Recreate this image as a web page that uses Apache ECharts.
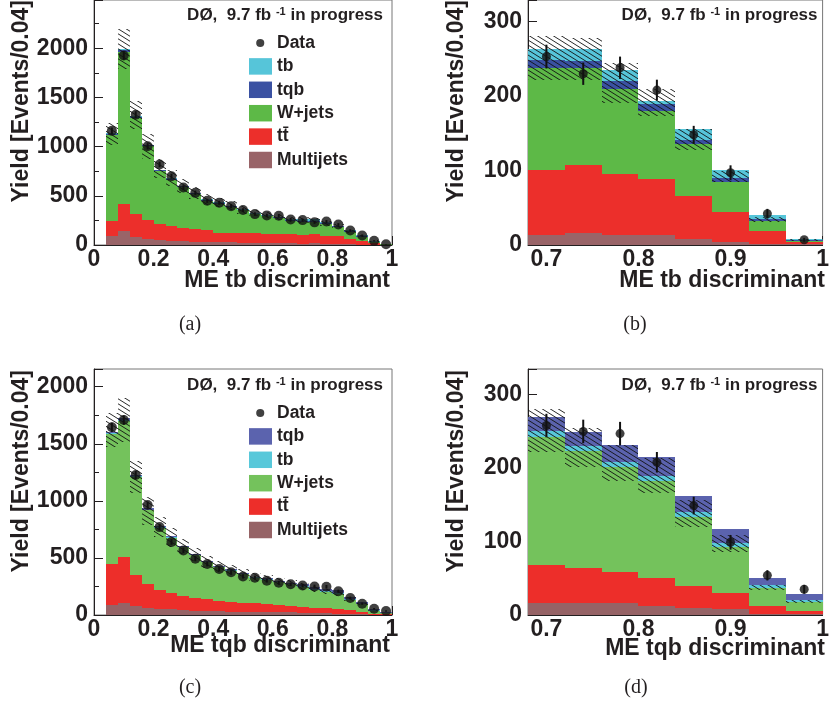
<!DOCTYPE html>
<html><head><meta charset="utf-8">
<script src="https://cdn.jsdelivr.net/npm/echarts@6/dist/echarts.min.js"></script>
<style>html,body{margin:0;padding:0;background:#fff}#c{width:832px;height:717px}</style>
</head><body><div id="c"></div>
<script>
// ---------------- DATA ----------------
const binLowAC = [0.04,0.08,0.12,0.16,0.20,0.24,0.28,0.32,0.36,0.40,0.44,0.48,0.52,0.56,0.60,0.64,0.68,0.72,0.76,0.80,0.84,0.88,0.92,0.96];
const binWidth = 0.04;
const zoomFirstBin = 16; // panels (b),(d) show bins from 0.68 on

// Panel (a): ME tb discriminant
const multiA = [95,142,84,64,51,44,41,34,34,27,27,24,22,20,20,18, 13,16,14,14,8,4,2,1];
const ttA    = [152,270,230,189,158,152,135,125,118,98,98,94,96,91,88,90, 88,92,82,74,58,40,17,3];
const wjA    = [871,1551,972,750,544,467,413,359,300,296,263,233,193,183,168,139, 137,130,114,92,69,40,13,2];
const tqbA   = [14,20,14,11,9,8,7,7,6,6,6,5,5,5,5,6, 11,9,10,9,6,6,3,1];
const tbA    = [7,10,7,6,5,5,5,5,5,5,5,5,5,5,6,7, 14,16,15,5,15,11,5,1];
const dataA  = [1160,1926,1324,1003,818,699,584,530,449,429,395,355,314,301,297,260, 253,230,238,208,148,97,42,7];
const errA   = [34,44,36,32,29,26,24,23,21,21,20,19,18,17,17,16, 16,15,15,14,12,10,6.5,2.6];
const bandLoA = [1014,1790,1182,878,676,600,530,470,410,385,355,320,290,272,258,235, 222,222,191,173,127,84,31,6];
const bandHiA = [1240,2196,1463,1125,878,760,670,590,520,480,445,400,355,335,318,288, 280,278,244,209,156,100,38,8];

// Panel (c): ME tqb discriminant
const multiC = [88,102,82,58,53,50,44,38,35,32,30,28,26,25,24,22, 16,17,16,12,9,8,2,1];
const ttC    = [356,409,268,214,166,140,122,111,102,94,84,80,76,68,64,60, 52,47,42,39,31,22,10,5];
const wjC    = [1142,1187,856,645,547,485,426,373,323,292,274,248,222,216,197,187, 175,159,144,131,94,63,25,12];
const tbC    = [8,10,8,7,6,6,5,5,5,5,5,5,5,5,5,5, 7,7,7,7,6,5,4,2];
const tqbC   = [12,15,12,10,10,9,8,8,7,7,7,7,7,7,8,9, 19,19,22,26,22,19,10,9];
const dataC  = [1644,1708,1226,963,770,640,566,493,447,403,374,338,327,301,283,269, 258,250,247,208,149,99,54,35];
const errC   = [41,41,35,31,28,25,24,22,21,20,19,18,18,17,17,16, 16,16,16,14,12,10,7,6];
const bandLoC = [1474,1518,1066,790,686,600,530,470,415,380,352,325,298,285,265,252, 222,202,182,166,120,86,34,16];
const bandHiC = [1766,1898,1352,1031,861,760,665,590,520,472,440,405,368,352,327,310, 280,255,231,214,157,109,41,20];

const xLabelsBD = [0.7,0.8,0.9,1.0];

// ---------------- STYLE ----------------
const FONT = 'Liberation Sans';
const INK = '#231f20';
const colA = {multi:'#996468', tt:'#ec2f2b', wj:'#5db947', tqb:'#3a51a2', tb:'#56c5d9'};
const colC = {multi:'#966366', tt:'#ed2e2a', wj:'#74c25c', tqb:'#5b63ae', tb:'#58c8da'};

// hatch pattern
const hc = document.createElement('canvas'); hc.width = 8; hc.height = 5;
const hg = hc.getContext('2d'); hg.strokeStyle = '#111'; hg.lineWidth = 0.9;
hg.beginPath(); hg.moveTo(-8,-5); hg.lineTo(16,10); hg.moveTo(-8,0); hg.lineTo(8,10); hg.moveTo(0,-5); hg.lineTo(16,5); hg.stroke();
const hatch = {image: hc, repeat: 'repeat'};

const grids = [
  {left:94, top:-1, width:298, height:246},
  {left:528, top:-1, width:298.5, height:246},
  {left:94, top:369, width:298, height:246},
  {left:528, top:369, width:298.5, height:246}
];
const yMax = [2490, 329, 2155, 335];

function rectRender(fill) {
  return function(params, api) {
    const p0 = api.coord([api.value(0), api.value(2)]);
    const p1 = api.coord([api.value(1), api.value(3)]);
    const x0 = Math.round(p0[0]), x1 = Math.round(p1[0]);
    const yb = Math.round(p0[1]), yt = Math.round(p1[1]);
    return {type:'rect', shape:{x:x0, y:yt, width:x1-x0, height:yb-yt}, style:{fill: fill}};
  };
}
function errRender(params, api) {
  const a = api.coord([api.value(0), api.value(1)]);
  const b = api.coord([api.value(0), api.value(2)]);
  return {type:'line', shape:{x1:a[0], y1:a[1], x2:b[0], y2:b[1]}, style:{stroke:'#111', lineWidth:2}};
}

function buildPanel(gi, tag, from, comps, data, err, lo, hi, dotSize) {
  const series = [];
  const lows = binLowAC.slice(from);
  const cum = lows.map(() => 0);
  comps.forEach(c => {
    const vals = c.values.slice(from);
    const d = lows.map((x, i) => { const y0 = cum[i]; cum[i] += vals[i]; return [x, x + binWidth, y0, cum[i]]; });
    series.push({type:'custom', name: tag + '|' + c.name, xAxisIndex: gi, yAxisIndex: gi, clip: true,
      itemStyle:{color: c.color}, renderItem: rectRender(c.color), encode:{x:[0,1], y:[2,3]}, data: d, z: 2});
  });
  const L = lo.slice(from), H = hi.slice(from);
  series.push({type:'custom', name: tag + '|band', xAxisIndex: gi, yAxisIndex: gi, clip: true, silent: true,
    renderItem: rectRender(hatch), encode:{x:[0,1], y:[2,3]},
    data: lows.map((x, i) => [x, x + binWidth, L[i], H[i]]), z: 3});
  const D = data.slice(from), E = err.slice(from);
  series.push({type:'custom', name: tag + '|err', xAxisIndex: gi, yAxisIndex: gi, clip: true, silent: true,
    renderItem: errRender, encode:{x:0, y:[1,2]},
    data: lows.map((x, i) => [x + binWidth/2, D[i] - E[i], D[i] + E[i]]), z: 4});
  series.push({type:'scatter', name: tag + '|Data', xAxisIndex: gi, yAxisIndex: gi, symbol:'circle', symbolSize: dotSize,
    itemStyle:{color:'#111'}, data: lows.map((x, i) => [x + binWidth/2, D[i]]), z: 5});
  return series;
}

const compsA = [
  {name:'Multijets', values: multiA, color: colA.multi},
  {name:'tt\u0304', values: ttA, color: colA.tt},
  {name:'W+jets', values: wjA, color: colA.wj},
  {name:'tqb', values: tqbA, color: colA.tqb},
  {name:'tb', values: tbA, color: colA.tb}
];
const compsC = [
  {name:'Multijets', values: multiC, color: colC.multi},
  {name:'tt\u0304', values: ttC, color: colC.tt},
  {name:'W+jets', values: wjC, color: colC.wj},
  {name:'tb', values: tbC, color: colC.tb},
  {name:'tqb', values: tqbC, color: colC.tqb}
];

const series = [].concat(
  buildPanel(0, 'a', 0, compsA, dataA, errA, bandLoA, bandHiA, 10),
  buildPanel(1, 'b', zoomFirstBin, compsA, dataA, errA, bandLoA, bandHiA, 9),
  buildPanel(2, 'c', 0, compsC, dataC, errC, bandLoC, bandHiC, 10),
  buildPanel(3, 'd', zoomFirstBin, compsC, dataC, errC, bandLoC, bandHiC, 9)
);

const labelStyle = {fontFamily: FONT, fontWeight:'bold', fontSize: 23, color: INK};
const tickLine = {color: INK, width: 1};

function xAxisAC(gi) {
  return {gridIndex: gi, type:'value', min:0, max:1, interval:0.2,
    axisLine:{lineStyle:{color: INK, width:1}}, axisTick:{inside:true, length:9, lineStyle: tickLine},
    minorTick:{show:true, splitNumber:4, length:5, lineStyle: tickLine},
    axisLabel: Object.assign({margin:3, formatter: v => String(+v.toFixed(2))}, labelStyle), splitLine:{show:false}, minorSplitLine:{show:false}};
}
function xAxisBD(gi) {
  return {gridIndex: gi, type:'value', min:0.68, max:1, interval:0.02,
    axisLine:{lineStyle:{color: INK, width:1}}, axisTick:{inside:true, length:5, lineStyle: tickLine},
    axisLabel: Object.assign({margin:3, showMinLabel:false,
      formatter: v => { const r = Math.round(v * 100); return r % 10 === 0 ? (r === 100 ? '1' : (r/100).toFixed(1)) : ''; }}, labelStyle),
    splitLine:{show:false}};
}
function xMajorBD(gi) {
  return {gridIndex: gi, type:'value', min:0.68, max:1, position:'bottom',
    axisLine:{show:false}, axisLabel:{show:false}, splitLine:{show:false},
    axisTick:{show:true, inside:true, length:9, lineStyle: tickLine, customValues: xLabelsBD}};
}
function yAxis(gi, interval) {
  return {gridIndex: gi, type:'value', min:0, max: yMax[gi], interval: interval,
    axisLine:{show:true, lineStyle:{color: INK, width:1}}, axisTick:{show:true, inside:true, length:9, lineStyle: tickLine},
    minorTick:{show:true, splitNumber:2, length:5, lineStyle: tickLine},
    axisLabel: Object.assign({margin:6, showMaxLabel:false,
      formatter: v => (Math.round(v) % interval === 0 ? String(Math.round(v)) : '')}, labelStyle),
    splitLine:{show:false}, minorSplitLine:{show:false}};
}

const dataIcon = 'path://M0,0L0,0M23,16.5L23,16.5M7.2,8.25A4.05,4.05,0,1,0,15.3,8.25A4.05,4.05,0,1,0,7.2,8.25Z';
function legend(tag, top, order) {
  return {show:true, orient:'vertical', left:249, top: top, padding:0, itemWidth:23, itemHeight:16.5, itemGap:5.4,
    itemStyle:{borderWidth:0}, selectedMode:false, icon:'rect',
    formatter: n => n.split('|')[1],
    textStyle:{fontFamily: FONT, fontWeight:'bold', fontSize:17.5, color: INK, padding:[0,0,0,0]},
    data: order.map(n => n === 'Data' ? {name: tag + '|Data', icon: dataIcon} : {name: tag + '|' + n, icon:'rect'})};
}

function doLabel(x, y) {
  return {type:'text', x: x, y: y, z: 10, style:{
    text: '{m|DØ,  9.7 fb }{s|-1}{m| in progress}', align:'right', verticalAlign:'middle',
    rich:{m:{fontFamily: FONT, fontWeight:'bold', fontSize:17, fill: INK},
          s:{fontFamily: FONT, fontWeight:'bold', fontSize:11, fill: INK, verticalAlign:'top'}}}};
}
function yTitle(x, y) {
  return {type:'text', x: x, y: y, rotation: Math.PI/2, z: 10, style:{text:'Yield [Events/0.04]', align:'right', verticalAlign:'middle',
    font: 'bold 23px "' + FONT + '"', fill: INK}};
}
function xTitle(x, y, t) {
  return {type:'text', x: x, y: y, z: 10, style:{text: t, align:'right', verticalAlign:'middle', font: 'bold 23px "' + FONT + '"', fill: INK}};
}
function caption(x, y, t) {
  return {type:'text', x: x, y: y, z: 10, style:{text: t, align:'center', verticalAlign:'middle', font: '20px "Liberation Serif"', fill: INK}};
}

const option = {
  animation: false,
  backgroundColor: '#fff',
  grid: grids.map(g => Object.assign({show:true, borderColor:'#777', borderWidth:1, backgroundColor:'transparent'}, g)),
  xAxis: [xAxisAC(0), xAxisBD(1), xAxisAC(2), xAxisBD(3), xMajorBD(1), xMajorBD(3)],
  yAxis: [yAxis(0, 500), yAxis(1, 100), yAxis(2, 500), yAxis(3, 100)],
  legend: [
    legend('a', 34, ['Data','tb','tqb','W+jets','tt\u0304','Multijets']),
    legend('c', 404, ['Data','tqb','tb','W+jets','tt\u0304','Multijets'])
  ],
  graphic: [
    doLabel(383, 15), doLabel(817.5, 15), doLabel(383, 385), doLabel(817.5, 385),
    yTitle(22, 0), yTitle(456.5, 0), yTitle(22, 370), yTitle(456.5, 370),
    xTitle(390, 281, 'ME tb discriminant'), xTitle(825, 281, 'ME tb discriminant'),
    xTitle(390, 646, 'ME tqb discriminant'), xTitle(825, 649, 'ME tqb discriminant'),
    caption(190, 325, '(a)'), caption(635, 325, '(b)'), caption(190, 688, '(c)'), caption(636, 688, '(d)')
  ],
  series: series
};
const chart = echarts.init(document.getElementById('c'), null, {renderer:'canvas'});
chart.setOption(option);
</script>
</body></html>
